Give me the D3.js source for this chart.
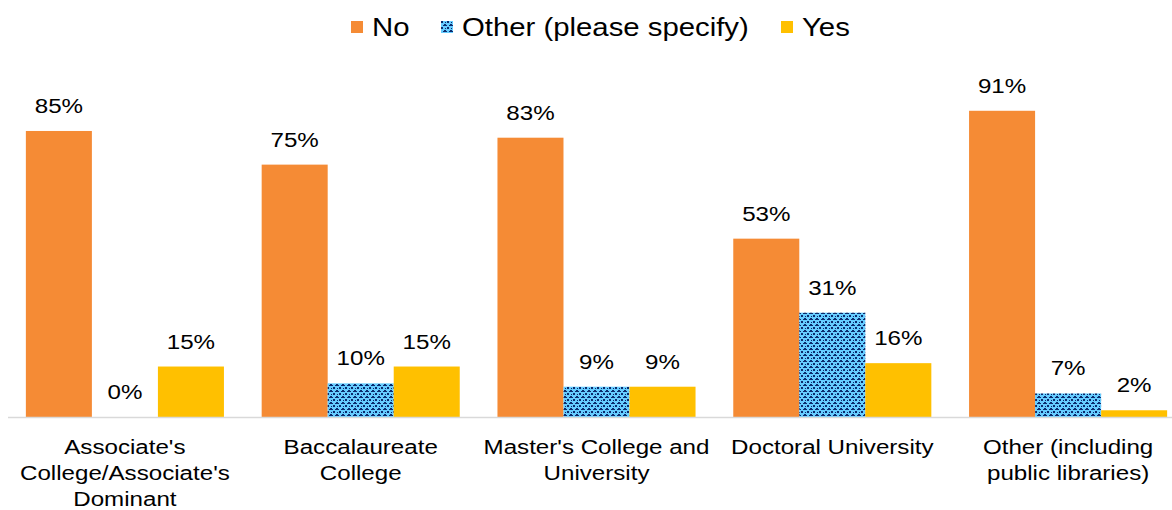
<!DOCTYPE html>
<html><head><meta charset="utf-8">
<script src="https://cdn.jsdelivr.net/npm/d3@7"></script>
<style>body{margin:0;background:#fff}svg{display:block;font-family:"Liberation Sans",Arial,sans-serif}</style>
</head><body><svg id="c" width="1172" height="510"></svg>
<script>
const categories = [
  ["Associate's", "College/Associate's", "Dominant"],
  ["Baccalaureate", "College"],
  ["Master's College and", "University"],
  ["Doctoral University"],
  ["Other (including", "public libraries)"]
];
const seriesNames = ["No", "Other (please specify)", "Yes"];
const noValues = [85, 75, 83, 53, 91];
const otherValues = [0, 10, 9, 31, 7];
const yesValues = [15, 15, 9, 16, 2];
const series = [noValues, otherValues, yesValues];

const SX = 1.15; // horizontal text stretch seen in the reference

const svg = d3.select("#c");
const defs = svg.append("defs");
const pat = defs.append("pattern").attr("id","pat").attr("patternUnits","userSpaceOnUse")
  .attr("width",6).attr("height",6);
pat.append("rect").attr("width",6).attr("height",6).attr("fill","#66CCFF");
[[0,0,2,2],[3,3,2,2],[2,1,1,1],[5,1,1,1],[1,4,1,1],[4,4,1,1]].forEach(([x,y,w,h])=>{
  pat.append("rect").attr("x",x).attr("y",y).attr("width",w).attr("height",h).attr("fill","#0B2B6E");
});
const fills = ["#F58B35","url(#pat)","#FFC000"];

const idx = d3.range(categories.length);
const x0 = d3.scaleBand().domain(idx).range([7, 1186]).paddingInner(0.16).paddingOuter(0.08);
const x1 = d3.scaleBand().domain([0,1,2]).range([0, x0.bandwidth()]);
const y = d3.scaleLinear().domain([0,100]).range([417, 80.5]);

const g = svg.append("g");
idx.forEach(i => {
  series.forEach((vals, s) => {
    const v = vals[i];
    const bx = x0(i) + x1(s);
    g.append("rect").attr("x", bx).attr("y", y(v)).attr("width", x1.bandwidth())
      .attr("height", y(0) - y(v)).attr("fill", fills[s]);
    g.append("text")
      .attr("transform", `translate(${bx + x1.bandwidth()/2},${y(v) - 18}) scale(${SX},1)`)
      .attr("text-anchor","middle").attr("font-size", 21).attr("fill","#000").text(v + "%");
  });
});

svg.append("line").attr("x1",8).attr("x2",1172).attr("y1",417.5).attr("y2",417.5)
  .attr("stroke","#D9D9D9").attr("stroke-width",1.5);

const xAxis = d3.axisBottom(x0).tickSize(0).tickFormat("");
const ax = svg.append("g").attr("transform","translate(0,417)").call(xAxis);
ax.select(".domain").remove();
ax.selectAll(".tick").each(function(d){
  const t = d3.select(this).append("text").attr("fill","#000").attr("font-size",21)
    .attr("text-anchor","middle").attr("transform",`scale(${SX},1)`);
  categories[d].forEach((line,k)=>{
    t.append("tspan").attr("x", 0).attr("y", 37 + k*26).text(line);
  });
});

// legend
const legendX = [351, 441, 781];
seriesNames.forEach((n,s)=>{
  svg.append("rect").attr("x",legendX[s]).attr("y",21).attr("width",12).attr("height",12).attr("fill",fills[s]);
  svg.append("text").attr("transform",`translate(${legendX[s]+21},36) scale(${SX},1)`)
    .attr("font-size",25.5).attr("fill","#000").text(n);
});
</script></body></html>
